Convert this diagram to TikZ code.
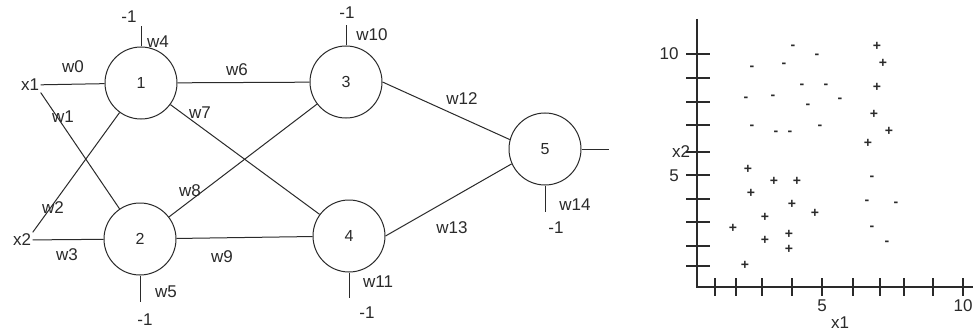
\documentclass[tikz,border=0pt]{standalone}
\usepackage{fontspec}
\setmainfont{Liberation Sans}
\usepackage{tikz}
\definecolor{ink}{HTML}{2A2A2A}

\begin{document}
\begin{tikzpicture}[x=1pt,y=-1pt,
  neuron/.style={circle,draw=ink,line width=1pt,minimum size=72pt,inner sep=0pt,text=ink,font=\fontsize{16}{19}\selectfont},
  lbl/.style={inner sep=1.5pt,text=ink,font=\fontsize{17}{20}\selectfont},
  wire/.style={draw=ink,line width=1pt},
  axis/.style={draw=ink,line width=1.6pt},
  pt/.style={inner sep=0pt,text=ink,font=\fontsize{14}{15}\bfseries}]
\useasboundingbox[fill=white] (0,0) rectangle (973,334);
% network
\node[neuron] (n1) at (141,83) {1};
\node[neuron] (n2) at (140,239) {2};
\node[neuron] (n3) at (346,82) {3};
\node[neuron] (n4) at (349,236) {4};
\node[neuron] (n5) at (545,149) {5};
\node[lbl] (x1) at (30,85) {x1};
\node[lbl] (x2) at (22,240) {x2};
\coordinate (b1) at (141,26);
\coordinate (b2) at (140,302);
\coordinate (b3) at (346,25);
\coordinate (b4) at (349,298);
\coordinate (b5) at (545,212);
\coordinate (out) at (609,149);
\draw[wire] (x1) -- (n1);
\draw[wire] (x1.south east) -- (n2);
\draw[wire] (x2.north east) -- (n1);
\draw[wire] (x2) -- (n2);
\draw[wire] (n1) -- (n3);
\draw[wire] (n1) -- (n4);
\draw[wire] (n2) -- (n3);
\draw[wire] (n2) -- (n4);
\draw[wire] (n3.east) -- (n5.165);
\draw[wire] (n5.204) -- (n4.east);
\draw[wire] (n5.east) -- (out);
\draw[wire] (n1.north) -- (b1);
\draw[wire] (n2.south) -- (b2);
\draw[wire] (n3.north) -- (b3);
\draw[wire] (n4.south) -- (b4);
\draw[wire] (n5.south) -- (b5);
% weights
\node[lbl] (w0) at (73,67) {w0};
\node[lbl] (w1) at (63,117) {w1};
\node[lbl] (w2) at (53,208) {w2};
\node[lbl] (w3) at (67,255) {w3};
\node[lbl] (w4) at (158,42) {w4};
\node[lbl] (w5) at (166,292) {w5};
\node[lbl] (w6) at (237,70) {w6};
\node[lbl] (w7) at (200,113) {w7};
\node[lbl] (w8) at (190,191) {w8};
\node[lbl] (w9) at (222,257) {w9};
\node[lbl] (w10) at (372,35) {w10};
\node[lbl] (w11) at (378,282) {w11};
\node[lbl] (w12) at (462,99) {w12};
\node[lbl] (w13) at (452,228) {w13};
\node[lbl] (w14) at (575,205) {w14};
\node[lbl] (m1) at (129,17) {-1};
\node[lbl] (m2) at (145,320) {-1};
\node[lbl] (m3) at (347,13) {-1};
\node[lbl] (m4) at (367,313) {-1};
\node[lbl] (m5) at (556,228) {-1};
% scatter plot
\draw[axis] (697,19) -- (697,287) -- (973,287);
\foreach \ty in {54,78,102,125,152,175,199,222,246,266}
  \draw[axis] (686,\ty) -- (710,\ty);
\foreach \tx in {715,736,762,792,822,853,880,904,933,963}
  \draw[axis] (\tx,278) -- (\tx,296);
\node[lbl] (ten) at (669,54) {10};
\node[lbl] (five) at (674,176) {5};
\node[lbl] (ylab) at (681,152) {x2};
\node[lbl] (xfive) at (822,306) {5};
\node[lbl] (xten) at (963,306) {10};
\node[lbl] (xlab) at (840,323) {x1};
\foreach \px/\py [count=\k] in {793/47,817/56,784/65,752/68,802/86,826/86,746/99,773/97,840/100,808/106,752/127,776/133,790/133,820/127,872/178,867/202,896/204,872/228,887/243}
  \node[pt] (neg\k) at (\px,\py) {-};
\foreach \px/\py [count=\k] in {877/46,883/63,877/87,874/114,889/131,868/143,748/169,774/181,797/181,751/193,792/204,815/213,765/217,733/228,765/240,789/234,789/249,745/265}
  \node[pt] (pos\k) at (\px,\py) {+};
\end{tikzpicture}
\end{document}
